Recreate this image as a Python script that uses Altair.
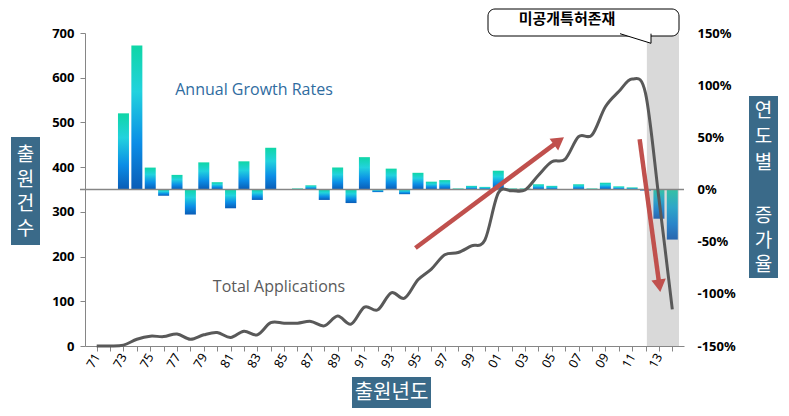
import altair as alt
import pandas as pd

# ---------------- data ----------------
years = list(range(1971, 2015))
applications = [0, 0, 2, 15, 22, 21, 27, 15, 25, 30, 19, 33, 25, 52, 51, 51, 55, 45,
                67, 49, 87, 81, 119, 107, 148, 172, 204, 209, 224, 237, 342, 347, 349,
                382, 412, 418, 468, 472, 535, 569, 597, 565, 330, 82]

growth_years = list(range(1973, 2015))
growth = [73, 138, 21, -6, 14, -24, 26, 7, -18, 27, -10, 40, 0, 1, 4, -10, 21, -13,
          31, -2.5, 20, -4.5, 16, 7.5, 9, 1, 3.5, 2.5, 18, 1, 1, 5, 3.5, 0, 5, 1,
          6.5, 3, 2, -1, -28, -48]

left_ticks = [0, 100, 200, 300, 400, 500, 600, 700]
right_ticks = [-150, -100, -50, 0, 50, 100, 150]

# shaded "unpublished patents" period
shade_start = [2012.1]
shade_end = [2014.5]

# trend arrows (in year / application units)
arrow_id = ["up", "up", "down", "down"]
arrow_year = [1994.81, 2005.53, 2011.56, 2013.04]
arrow_apps = [219.2, 458.7, 462.3, 134.6]
head_year = [2005.53, 2013.04]
head_apps = [458.7, 134.6]
head_angle = [53.7, 172.2]

left_title_chars = ["출", "원", "건", "수"]
right_title_top = ["연", "도", "별"]
right_title_bottom = ["증", "가", "율"]

# ---------------- style ----------------
GRAY = "#868686"
BOX = "#3a6a89"
KFONT = "Noto Sans CJK KR"
NFONT = "Noto Sans"
W, H = 599, 313

df_line = pd.DataFrame({"year": years, "apps": applications})
df_bar = pd.DataFrame({"year": growth_years, "growth": growth})
df_shade = pd.DataFrame({"year": shade_start, "year_end": shade_end})
df_arrow = pd.DataFrame({"arrow": arrow_id, "year": arrow_year, "apps": arrow_apps})
df_head = pd.DataFrame({"year": head_year, "apps": head_apps, "angle": head_angle})
df_zero = pd.DataFrame({"growth": [0]})
one = pd.DataFrame({"a": [0]})

X = alt.X(
    "year:Q",
    scale=alt.Scale(domain=[1970.5, 2014.5], nice=False, zero=False),
    axis=alt.Axis(
        values=years,
        labelExpr="datum.value % 2 == 1 ? substring(toString(datum.value), 2, 4) : ''",
        labelAngle=-60, labelAlign="right", labelBaseline="middle",
        labelFont=NFONT, labelFontSize=12.5, labelColor="black", labelPadding=3,
        ticks=True, tickSize=5, tickColor=GRAY, domainColor=GRAY,
        grid=False, title=None, labelOverlap=False,
    ),
)

Y_LEFT = alt.Y(
    "apps:Q",
    scale=alt.Scale(domain=[0, 700], nice=False),
    axis=alt.Axis(
        values=left_ticks, format="d", labelFont=NFONT, labelFontSize=13,
        labelFontWeight="bold", labelColor="black", labelPadding=6,
        tickSize=5, tickColor=GRAY, domainColor=GRAY, grid=False, title=None,
    ),
)

Y_RIGHT = alt.Y(
    "growth:Q",
    scale=alt.Scale(domain=[-150, 150], nice=False),
    axis=alt.Axis(
        orient="right", values=right_ticks, labelExpr="datum.value + '%'",
        labelFont=NFONT, labelFontSize=13, labelFontWeight="bold",
        labelColor="black", labelPadding=13, domain=False, ticks=False,
        grid=False, title=None,
    ),
)

grad_main = alt.Gradient(
    gradient="linear", x1=0, x2=0, y1=0, y2=1,
    stops=[
        alt.GradientStop(color="#0fd6a6", offset=0),
        alt.GradientStop(color="#22d2de", offset=0.32),
        alt.GradientStop(color="#0b8de6", offset=0.68),
        alt.GradientStop(color="#0a5cb6", offset=1),
    ],
)
grad_muted = alt.Gradient(
    gradient="linear", x1=0, x2=0, y1=0, y2=1,
    stops=[
        alt.GradientStop(color="#36c1a4", offset=0),
        alt.GradientStop(color="#2fa7c8", offset=0.35),
        alt.GradientStop(color="#2a84c9", offset=0.7),
        alt.GradientStop(color="#2a66ae", offset=1),
    ],
)

# --- right-scale group: shade, bars, zero line ---
shade = alt.Chart(df_shade).mark_rect(color="#d9d9d9").encode(
    x=X, x2="year_end:Q", y=alt.value(0), y2=alt.value(H)
)
bars_main = alt.Chart(df_bar).transform_filter("datum.year <= 2012").mark_bar(
    size=11, color=grad_main
).encode(x=X, y=Y_RIGHT)
bars_muted = alt.Chart(df_bar).transform_filter("datum.year > 2012").mark_bar(
    size=11, color=grad_muted
).encode(x=X, y=Y_RIGHT)
zero = alt.Chart(df_zero).mark_rule(color=GRAY, strokeWidth=1.5).encode(
    y=Y_RIGHT, x=alt.value(-5), x2=alt.value(W)
)
group_right = alt.layer(shade, bars_main, bars_muted, zero)

# --- left-scale group: total applications line, arrows ---
line = alt.Chart(df_line).mark_line(
    color="#595959", strokeWidth=3, interpolate="cardinal"
).encode(x=X, y=Y_LEFT)
arrows = alt.Chart(df_arrow).mark_line(color="#c0504d", strokeWidth=4.5).encode(
    x=X, y=Y_LEFT, detail="arrow:N"
)
heads = alt.Chart(df_head).mark_point(
    shape="triangle-up", filled=True, color="#c0504d", size=210, opacity=1
).encode(x=X, y=Y_LEFT, angle=alt.Angle("angle:Q", scale=None))
group_left = alt.layer(line, arrows, heads)


# --- annotations ---
def note(text, x, y, **kw):
    return alt.Chart(one).mark_text(text=text, align="center", baseline="middle", **kw).encode(
        x=alt.value(x), y=alt.value(y)
    )


def box(x0, x1, y0, y1, **kw):
    return alt.Chart(one).mark_rect(**kw).encode(
        x=alt.value(x0), x2=alt.value(x1), y=alt.value(y0), y2=alt.value(y1)
    )


layers = [group_right, group_left]
layers.append(note("Annual Growth Rates", 169, 57, font="Open Sans", fontSize=16, color="#2f6c9f"))
layers.append(note("Total Applications", 194, 254, font="Open Sans", fontSize=16, color="#5a5a5a"))

layers.append(box(403, 594, -24, 3, fill="white", stroke="black", strokeWidth=1, cornerRadius=7))
layers.append(alt.Chart(one).mark_point(
    shape="M -1 -0.15 L 1 0.47 L 1 -0.15", filled=True, fill="white",
    stroke="black", strokeWidth=1, size=961, opacity=1,
).encode(x=alt.value(550.5), y=alt.value(3)))
layers.append(note("미공개특허존재", 482, -14, font=KFONT, fontSize=15, fontWeight="bold", color="black"))

# left axis title box
layers.append(box(-74, -45, 104, 212, fill=BOX))
for i, ch in enumerate(left_title_chars):
    layers.append(note(ch, -59.5, 122 + 24.5 * i, font=KFONT, fontSize=19, color="white"))

# right axis title box
layers.append(box(664, 693, 63, 245, fill=BOX))
for i, ch in enumerate(right_title_top):
    layers.append(note(ch, 678.5, 78 + 26 * i, font=KFONT, fontSize=19, color="white"))
for i, ch in enumerate(right_title_bottom):
    layers.append(note(ch, 678.5, 183 + 24.5 * i, font=KFONT, fontSize=19, color="white"))

# x axis title box
layers.append(box(267, 346, 344, 375, fill=BOX))
layers.append(note("출원년도", 306.5, 359.5, font=KFONT, fontSize=20, color="white"))

chart = alt.layer(*layers).resolve_scale(y="independent").properties(
    width=W, height=H,
    autosize=alt.AutoSizeParams(type="none"),
    padding={"left": 77, "top": 25, "right": 97, "bottom": 62},
).configure_view(stroke=None)

chart.save("out.html", embed_options={"renderer": "svg", "actions": False})
